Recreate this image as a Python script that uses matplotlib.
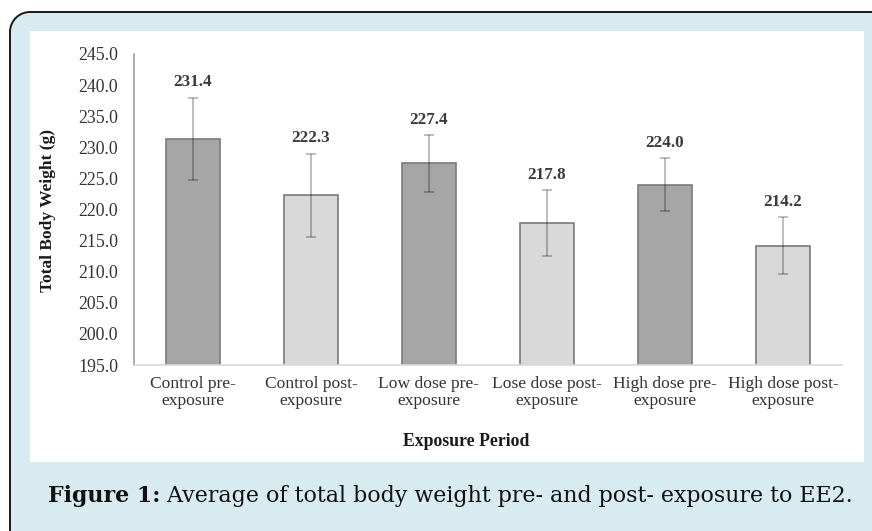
import matplotlib
matplotlib.use("Agg")
import matplotlib.pyplot as plt
from matplotlib.patches import FancyBboxPatch, Rectangle, Arc
from matplotlib.lines import Line2D
from matplotlib.transforms import IdentityTransform
import numpy as np

categories = ["Control pre-\nexposure", "Control post-\nexposure", "Low dose pre-\nexposure",
              "Lose dose post-\nexposure", "High dose pre-\nexposure", "High dose post-\nexposure"]
values = [231.4, 222.3, 227.4, 217.8, 224.0, 214.2]
errors = [6.6, 6.7, 4.6, 5.3, 4.3, 4.6]
bar_colors = ["#a6a6a6", "#d9d9d9", "#a6a6a6", "#d9d9d9", "#a6a6a6", "#d9d9d9"]
yticks = [195.0, 200.0, 205.0, 210.0, 215.0, 220.0, 225.0, 230.0, 235.0, 240.0, 245.0]

W, H = 872, 531
DPI = 100
fig = plt.figure(figsize=(W / DPI, H / DPI), dpi=DPI)
fig.patch.set_facecolor("white")

def px(x, y):
    # pixel (top-left origin) -> inches (bottom-left origin)
    return x / DPI, (H - y) / DPI

R = 0.2  # corner radius, inches
# outer rounded box fill (right and bottom ends run off the image)
x0, y0 = px(10, 560)
x1, y1 = px(910, 12)
box = FancyBboxPatch((x0, y0), x1 - x0, y1 - y0,
                     boxstyle=f"round,pad=0,rounding_size={R}",
                     transform=fig.dpi_scale_trans, facecolor="#d7ebf1",
                     edgecolor="none", zorder=0)
fig.add_artist(box)
# border: top line, left line, top-left arc
bc, bw = "#1a1a1a", 1.4
fig.add_artist(Line2D([x0 + R, W / DPI + 0.1], [y1, y1], transform=fig.dpi_scale_trans,
                      color=bc, linewidth=bw, zorder=0.2))
fig.add_artist(Line2D([x0, x0], [y1 - R, -0.1], transform=fig.dpi_scale_trans,
                      color=bc, linewidth=bw, zorder=0.2))
fig.add_artist(Arc((x0 + R, y1 - R), 2 * R, 2 * R, theta1=90, theta2=180,
                   transform=fig.dpi_scale_trans, color=bc, linewidth=bw, zorder=0.2))
# inner white panel
ix0, iy0 = px(30, 462)
ix1, iy1 = px(864, 31)
fig.add_artist(Rectangle((ix0, iy0), ix1 - ix0, iy1 - iy0, transform=fig.dpi_scale_trans,
                         facecolor="white", edgecolor="none", zorder=0.5))

# axes
left, right, top, bottom = 134, 842, 54, 365
ax = fig.add_axes([left / W, (H - bottom) / H, (right - left) / W, (bottom - top) / H])
ax.set_facecolor("none")
ax.set_zorder(2)

serif = "Liberation Serif"
x = np.arange(len(values))
ax.bar(x, values, width=0.46, bottom=0, color=bar_colors, edgecolor="#7a7a7a",
       linewidth=1.2, zorder=2)
ax.errorbar(x, values, yerr=errors, fmt="none", ecolor="black", alpha=0.3,
            elinewidth=1.2, capsize=3.5, capthick=1.2, zorder=3)
for xi, v, e in zip(x, values, errors):
    ax.annotate(f"{v:.1f}", (xi, v + e), xytext=(0, 8), textcoords="offset points",
                ha="center", va="baseline", fontsize=12.3, fontweight="bold",
                family=serif, color="#3a3a3a", zorder=4)

ax.set_xlim(-0.5, len(values) - 0.5)
ax.set_ylim(195, 245)
ax.set_yticks(yticks)
ax.set_yticklabels([f"{t:.1f}" for t in yticks], family=serif, fontsize=12.8, color="#333333")
ax.set_xticks(x)
ax.set_xticklabels(categories, family=serif, fontsize=12.6, color="#333333",
                   linespacing=1.05, multialignment="center")
ax.tick_params(axis="both", length=0)
ax.tick_params(axis="y", pad=11.5)
ax.tick_params(axis="x", pad=8)
for s in ["top", "right"]:
    ax.spines[s].set_visible(False)
ax.spines["left"].set_color("#a0a0a0")
ax.spines["left"].set_linewidth(1.2)
ax.spines["bottom"].set_color("#d9d9d9")
ax.spines["bottom"].set_linewidth(1.2)

# axis titles
fig.text(48 / W, (H - 211) / H, "Total Body Weight (g)", rotation=90, ha="center", va="center",
         family=serif, fontweight="bold", fontsize=12.5, color="#1a1a1a")
fig.text(466 / W, (H - 442) / H, "Exposure Period", ha="center", va="center",
         family=serif, fontweight="bold", fontsize=12.8, color="#1a1a1a")

# caption, fitted to its width in the reference
cap_font = "DejaVu Serif"
target_w = 802
fs = 13.0
cx, cy = 48, H - 502  # display pixels (bottom-left origin), baseline
t1 = fig.text(cx, cy, "Figure 1:", transform=IdentityTransform(), family=cap_font,
              fontweight="bold", fontsize=fs, color="#111111", va="baseline", ha="left")
t2 = fig.text(cx, cy, " Average of total body weight pre- and post- exposure to EE2.",
              transform=IdentityTransform(), family=cap_font, fontsize=fs,
              color="#111111", va="baseline", ha="left")
fig.canvas.draw()
r = fig.canvas.get_renderer()
w1 = t1.get_window_extent(r).width
w2 = t2.get_window_extent(r).width
scale = target_w / (w1 + w2)
fs2 = fs * scale
t1.set_fontsize(fs2)
t2.set_fontsize(fs2)
fig.canvas.draw()
w1 = t1.get_window_extent(r).width
t2.set_position((cx + w1, cy))

fig.savefig("out.png", dpi=DPI, facecolor=fig.get_facecolor())
